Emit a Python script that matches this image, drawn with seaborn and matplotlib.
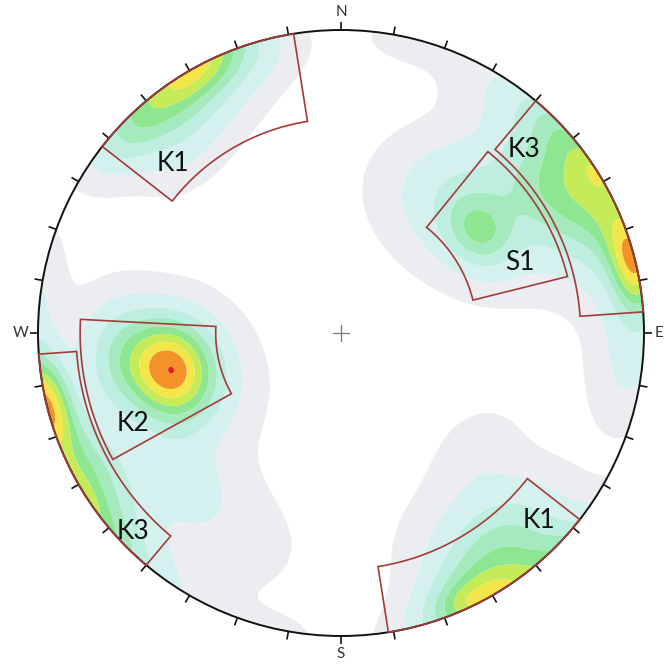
import numpy as np
import matplotlib
matplotlib.use("Agg")
import matplotlib.pyplot as plt
from matplotlib.patches import Circle, Polygon
import seaborn as sns

# Pole concentrations: trend (deg), plunge (deg), weight, angular spread (deg)
cluster_trend = [257.6, 257.6, 264.0, 252.0,                 # K2
                 73.5, 79.5, 253.5, 259.5,                   # K3 rim maximum
                 57.5, 65.0, 48.0, 82.0, 60.0,               # K3 (E/W rim)
                 55.0, 96.0, 240.0, 228.0, 35.0,
                 54.0, 50.0, 35.0,                           # S1
                 331.0, 322.0, 340.0, 326.0, 313.0,          # K1 (NW rim)
                 154.0, 156.0, 143.0, 145.0,                 # K1 (SE rim)
                 318.0, 130.0, 12.0, 210.0]                  # scattered poles
cluster_plunge = [42.4, 42.4, 28.0, 48.0,
                  3.5, 3.5, 3.5, 3.5,
                  1.0, 2.0, 2.0, 2.0, 10.0,
                  18.0, 5.0, 9.0, 30.0, 5.0,
                  43.0, 38.0, 45.0,
                  2.0, 4.0, 4.0, 12.0, 5.0,
                  6.0, 4.0, 13.0, 25.0,
                  24.0, 40.0, 2.0, 25.0]
cluster_weight = [6.6, 0.6, 2.6, 0.9,
                  1.8, 1.8, 1.8, 1.8,
                  0.8, 2.0, 1.5, 1.4, 3.0,
                  1.2, 1.1, 1.6, 1.0, 0.7,
                  2.3, 1.9, 0.8,
                  2.0, 2.2, 1.2, 1.5, 1.2,
                  2.0, 0.6, 2.6, 0.8,
                  0.45, 0.5, 0.45, 0.6]
cluster_spread = [8.5, 1.5, 9.0, 13.0,
                  4.5, 4.5, 4.5, 4.5,
                  3.0, 9.0, 7.0, 7.0, 13.0,
                  8.0, 9.0, 9.0, 9.0, 10.0,
                  6.0, 12.0, 12.0,
                  6.0, 9.0, 8.0, 10.0, 7.0,
                  7.0, 3.5, 10.0, 12.0,
                  7.0, 8.0, 6.0, 13.0]

# Contour intervals and fills (low -> high)
contour_levels = [0.3, 1.0, 2.0, 3.0, 4.0, 5.0, 6.0, 7.0, 8.5, 1e3]
contour_colors = ["#ebedf1", "#d4f0ef", "#bdeee0", "#a5eabf", "#8fe690",
                  "#c5eb58", "#f2e64b", "#f4922a", "#e31c14"]

# Joint-set windows (pole trend and plunge ranges)
set_names = ["K1", "K3", "S1", "K1", "K2", "K3"]
win_trend_min = [308, 40, 39, 128, 241, 220]
win_trend_max = [351, 86, 76, 171, 273, 266]
win_plunge_min = [0.0, 0.0, 24.0, 0.0, 15.0, 0.0]
win_plunge_max = [30.0, 22.0, 53.0, 23.0, 56.0, 13.6]

# Where each set name sits (projected x, y)
label_xy = [(-0.555, 0.561), (0.603, 0.604), (0.592, 0.234),
            (0.652, -0.620), (-0.687, -0.300), (-0.686, -0.654)]

cardinal_names = ["N", "E", "S", "W"]
cardinal_az = [0, 90, 180, 270]


def proj(trend_deg, plunge_deg):
    """Lower-hemisphere equal-area (Schmidt) projection."""
    t = np.radians(trend_deg)
    th = np.radians(90.0 - np.asarray(plunge_deg, dtype=float))
    r = np.sqrt(2.0) * np.sin(th / 2.0)
    return r * np.sin(t), r * np.cos(t)


def unit_vec(trend_rad, plunge_rad):
    return (np.cos(plunge_rad) * np.cos(trend_rad),
            np.cos(plunge_rad) * np.sin(trend_rad),
            np.sin(plunge_rad))


sns.set_theme(style="white")
plt.rcParams["font.family"] = ["Lato", "DejaVu Sans"]
palette = sns.color_palette(contour_colors)

fig = plt.figure(figsize=(6.64, 6.67), dpi=100)
ax = fig.add_axes([0, 0, 1, 1])
R_PX = 303.0
ax.set_xlim(-341 / R_PX, 323 / R_PX)
ax.set_ylim(-334 / R_PX, 333 / R_PX)
ax.axis("off")

# Density grid over the net
g = np.linspace(-1.02, 1.02, 621)
GX, GY = np.meshgrid(g, g)
rr = np.hypot(GX, GY)
theta = 2.0 * np.arcsin(np.clip(rr / np.sqrt(2.0), 0, 1))
gtrend = np.arctan2(GX, GY)
gplunge = np.pi / 2 - theta
gn, ge, gd = unit_vec(gtrend, gplunge)

dens = np.zeros_like(GX)
for t, p, w, s in zip(cluster_trend, cluster_plunge, cluster_weight, cluster_spread):
    cn, ce, cd = unit_vec(np.radians(t), np.radians(p))
    c = np.abs(gn * cn + ge * ce + gd * cd)
    ang = np.degrees(np.arccos(np.clip(c, -1, 1)))
    dens += w * np.exp(-0.5 * (ang / s) ** 2)

net = Circle((0, 0), 1.0, transform=ax.transData, facecolor="none",
             edgecolor="none")
ax.add_patch(net)
cs = ax.contourf(GX, GY, dens, levels=contour_levels, colors=list(palette),
                 antialiased=True)
cs.set_clip_path(net)

# Set windows
for tmin, tmax, pmin, pmax in zip(win_trend_min, win_trend_max,
                                  win_plunge_min, win_plunge_max):
    ts = np.linspace(tmin, tmax, 80)
    xo, yo = proj(ts, np.full_like(ts, pmin))
    xi, yi = proj(ts[::-1], np.full_like(ts, pmax))
    pts = np.column_stack([np.concatenate([xo, xi]), np.concatenate([yo, yi])])
    ax.add_patch(Polygon(pts, closed=True, facecolor="none",
                         edgecolor="#a53a3a", linewidth=1.2, zorder=4))

for name, (lx, ly) in zip(set_names, label_xy):
    ax.text(lx, ly, name, fontsize=19, color="#111111", ha="center",
            va="center", zorder=6)

# Primitive circle, 10-degree ticks, cardinal letters, centre mark
ax.add_patch(Circle((0, 0), 1.0, facecolor="none", edgecolor="#111111",
                    linewidth=1.4, zorder=3))
for az in range(0, 360, 10):
    a = np.radians(az)
    ax.plot([np.sin(a), 1.027 * np.sin(a)], [np.cos(a), 1.027 * np.cos(a)],
            color="#111111", linewidth=1.2, zorder=3, solid_capstyle="butt")
for name, az in zip(cardinal_names, cardinal_az):
    a = np.radians(az)
    rad = 1.034 if name == "E" else 1.058
    ha = "left" if name == "E" else "center"
    ax.text(rad * np.sin(a), rad * np.cos(a), name, fontsize=11,
            color="#333333", ha=ha, va="center", zorder=6)
ax.plot([-0.027, 0.027], [0, 0], color="#777777", linewidth=0.9, zorder=5)
ax.plot([0, 0], [-0.027, 0.027], color="#777777", linewidth=0.9, zorder=5)

fig.savefig("out.png", dpi=100, facecolor="white")
